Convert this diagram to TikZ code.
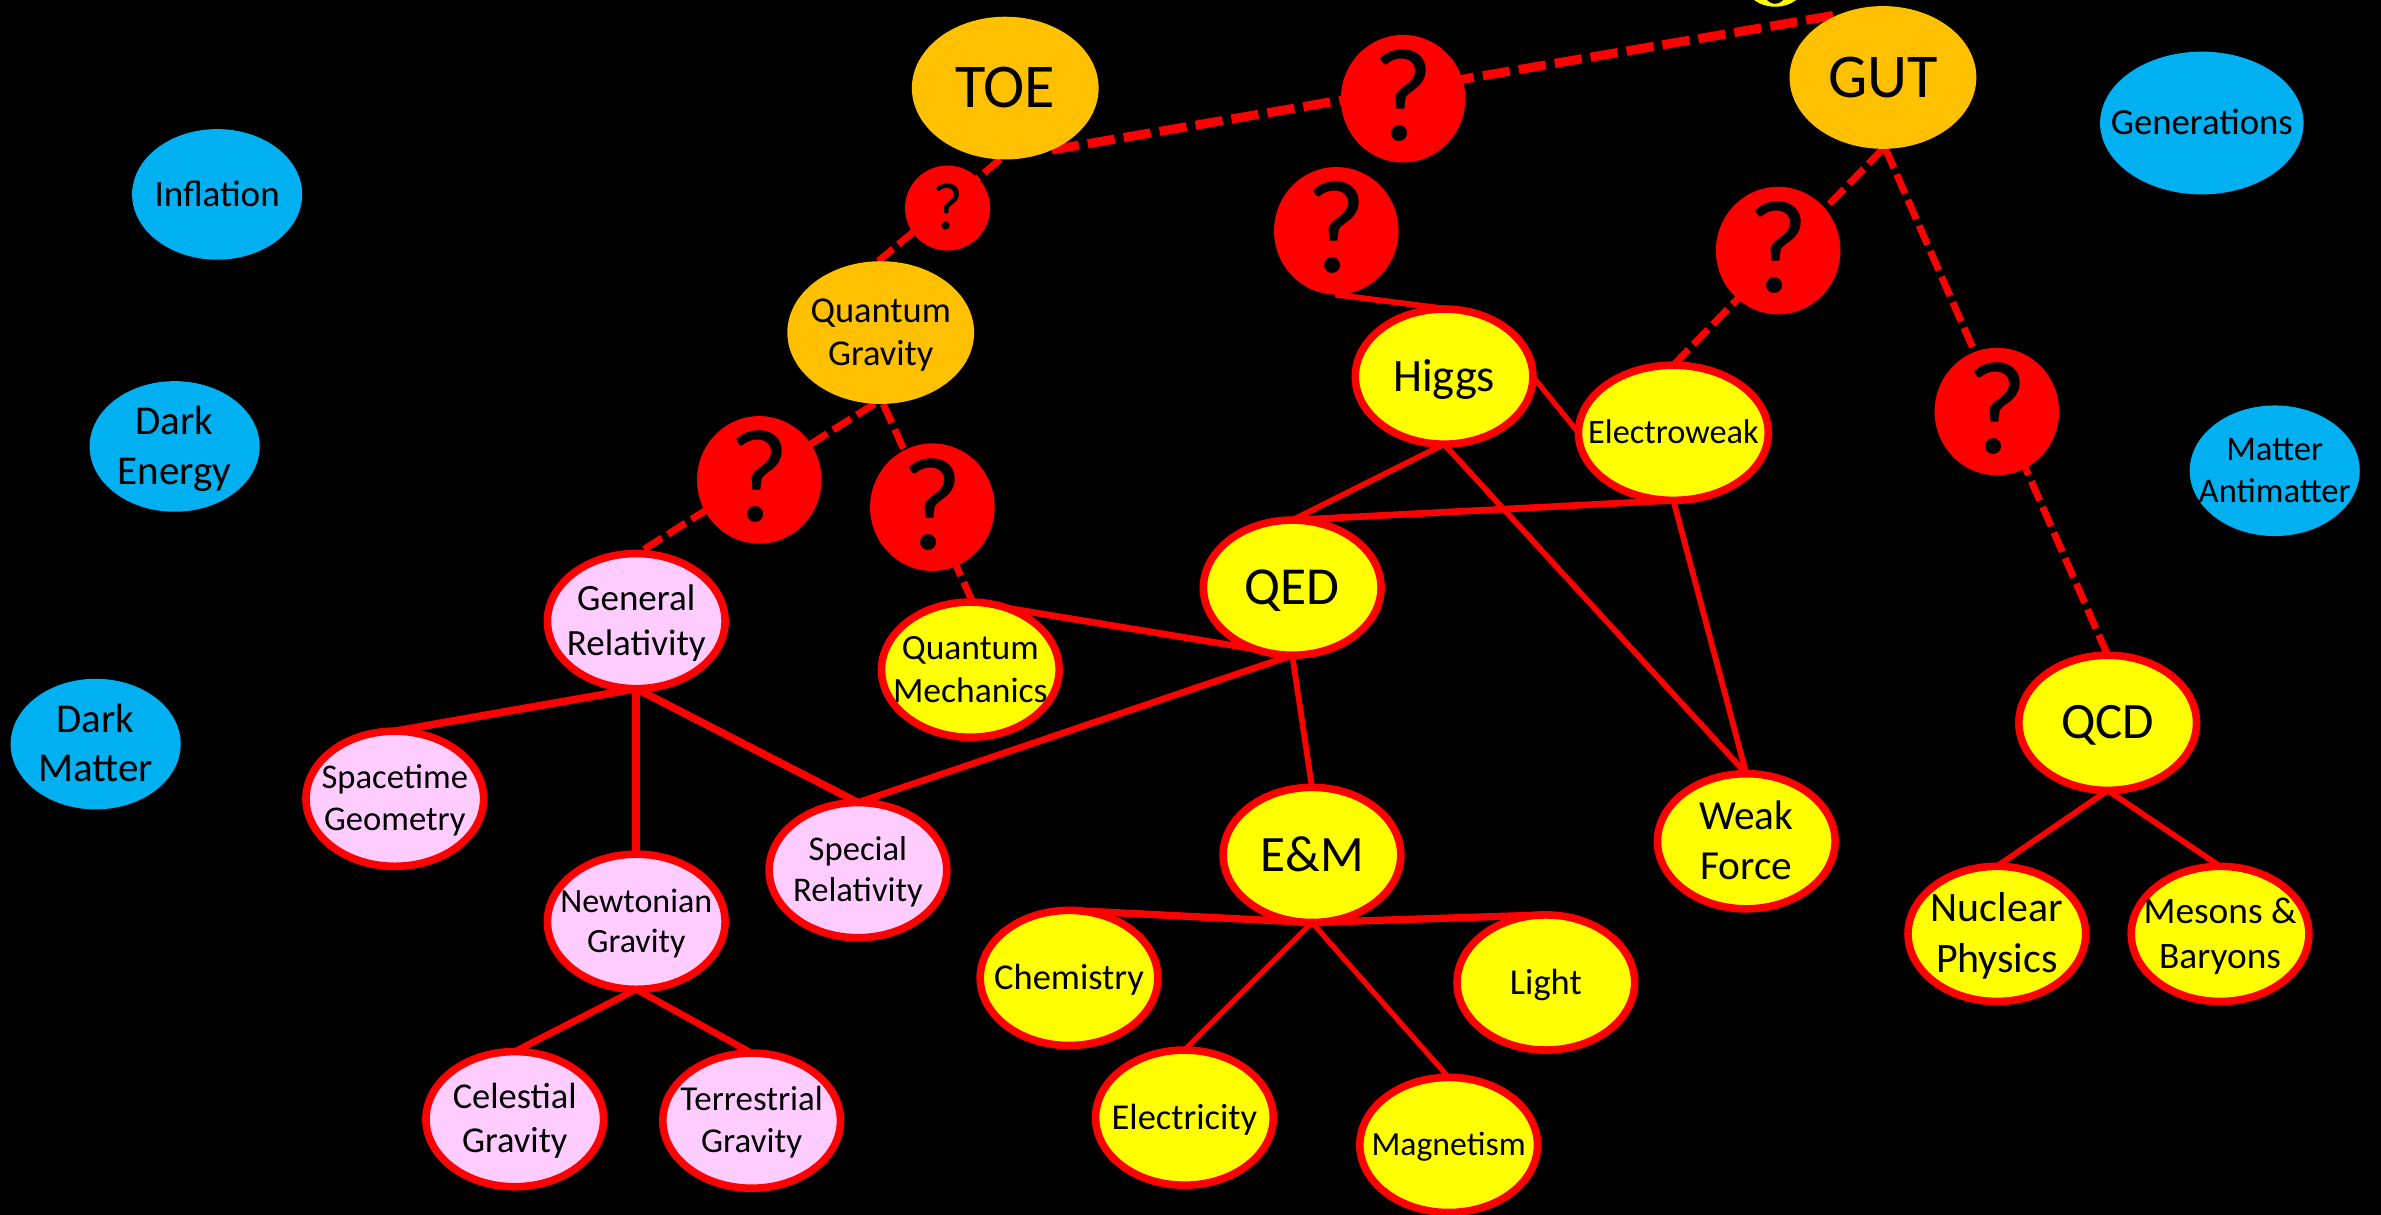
\documentclass[tikz,border=0pt]{standalone}
\usepackage{fontspec}
\setmainfont{Carlito}
\usetikzlibrary{shapes.geometric}
\pgfdeclarelayer{back}
\pgfdeclarelayer{edges}
\pgfsetlayers{back,edges,main}

\definecolor{skyblue}{HTML}{00B0F0}
\definecolor{amber}{HTML}{FFC000}
\definecolor{lemon}{HTML}{FFFF00}
\definecolor{blush}{HTML}{FFCCFF}
\definecolor{signal}{HTML}{FF0000}

% one centred line of node text: no width, cap-height top, no depth
\newcommand\capline[1]{\makebox[0pt]{\raisebox{0pt}[0.632em][0pt]{#1}}}

\tikzset{
  fsz/.code={\pgfmathsetmacro\tmpbsk{1.2*#1}%
    \tikzset{font/.expanded={\noexpand\fontsize{#1pt}{\tmpbsk pt}\noexpand\selectfont}}},
  bubble/.style={ellipse, inner sep=0pt, outer sep=0pt, align=center, text=black},
  cosmo/.style={bubble, fill=skyblue, minimum width=56pt, minimum height=43pt},
  unified/.style={bubble, fill=amber, minimum width=61.5pt, minimum height=47pt},
  unknown/.style={bubble, fill=signal, minimum width=41pt, minimum height=42pt, fsz=43.75},
  unknownsm/.style={bubble, fill=signal, minimum width=28pt, minimum height=28pt, fsz=22},
  quantum/.style={bubble, fill=lemon, draw=signal, line width=2.5pt,
    minimum width=58.5pt, minimum height=44.5pt},
  classical/.style={quantum, fill=blush},
  bond/.style={draw=signal, line width=#1},
  bond/.default=1.9pt,
  longdash/.style={draw=signal, line width=3pt, dash pattern=on 9pt off 3pt},
  shortdash/.style={draw=signal, line width=2.3pt, dash pattern=on 6.9pt off 2.3pt},
}

\begin{document}
\begin{tikzpicture}[x={(0.5pt,0)}, y={(0,-0.5pt)}]
\useasboundingbox (0,0) rectangle (1568,800);
\begin{pgfonlayer}{back}
  \fill[black] (0,0) rectangle (1568,800);
\end{pgfonlayer}

% lower edge of a yellow shape cut by the top border
\fill[lemon, even odd rule] (1169,-9.6) ellipse [x radius=9.5pt, y radius=7pt]
                            (1169,-9.6) ellipse [x radius=4.5pt, y radius=6.05pt];

% cosmology puzzles
\node[cosmo, fsz=12.2] (inflation) at (143,128) {\capline{Inflation}};
\node[cosmo, fsz=13.5] (darkenergy) at (115,294) {\capline{Dark}\\\capline{Energy}};
\node[cosmo, fsz=13.5] (darkmatter) at (63,490) {\capline{Dark}\\\capline{Matter}};
\node[cosmo, fsz=12.1, minimum width=67pt, minimum height=47pt] (generations) at (1450,81) {\capline{Generations}};
\node[cosmo, fsz=11.4] (antimatter) at (1498,310) {\capline{Matter}\\\capline{Antimatter}};

% unified theories
\node[unified, fsz=20.5] (toe) at (662,58) {\capline{TOE}};
\node[unified, fsz=20.5] (gut) at (1240,51) {\capline{GUT}};
\node[unified, fsz=12] (qgrav) at (580,219) {\capline{Quantum}\\\capline{Gravity}};

% open questions
\node[unknown] (qtop) at (924,65) {\capline{?}};
\node[unknownsm] (qtoe) at (624,137) {\capline{?}};
\node[unknown] (qhiggs) at (880,152) {\capline{?}};
\node[unknown] (qew) at (1171,165) {\capline{?}};
\node[unknown] (qqcd) at (1315,271) {\capline{?}};
\node[unknown] (qgr) at (500,316) {\capline{?}};
\node[unknown] (qqm) at (614,334) {\capline{?}};

% quantum field theories and their branches
\node[quantum, fsz=15.3] (higgs) at (951,248) {\capline{Higgs}};
\node[quantum, fsz=11.3, minimum width=62.5pt] (ew) at (1102,285) {\capline{Electroweak}};
\node[quantum, fsz=17.6] (qed) at (851,387) {\capline{QED}};
\node[quantum, fsz=16.8] (qcd) at (1388,476) {\capline{QCD}};
\node[quantum, fsz=13.6] (weak) at (1150,554) {\capline{Weak}\\\capline{Force}};
\node[quantum, fsz=16.8] (em) at (864,563) {\capline{E\&M}};
\node[quantum, fsz=12] (chem) at (704,644) {\capline{Chemistry}};
\node[quantum, fsz=12] (light) at (1018,647) {\capline{Light}};
\node[quantum, fsz=12] (elec) at (780,736) {\capline{Electricity}};
\node[quantum, fsz=11.1] (magn) at (954,754) {\capline{Magnetism}};
\node[quantum, fsz=13.8] (nuclear) at (1315,615) {\capline{Nuclear}\\\capline{Physics}};
\node[quantum, fsz=12.3] (mesons) at (1462,615) {\capline{Mesons \&}\\\capline{Baryons}};
\node[quantum, fsz=11.7] (qm) at (639,441) {\capline{Quantum}\\\capline{Mechanics}};

% gravity
\node[classical, fsz=12.2] (gr) at (419,409) {\capline{General}\\\capline{Relativity}};
\node[classical, fsz=11.4] (spacetime) at (260,526) {\capline{Spacetime}\\\capline{Geometry}};
\node[classical, fsz=11.4] (sr) at (565,573) {\capline{Special}\\\capline{Relativity}};
\node[classical, fsz=11.2] (newton) at (419,607) {\capline{Newtonian}\\\capline{Gravity}};
\node[classical, fsz=12] (celestial) at (339,737) {\capline{Celestial}\\\capline{Gravity}};
\node[classical, fsz=11.5] (terrestrial) at (495,738) {\capline{Terrestrial}\\\capline{Gravity}};

\begin{pgfonlayer}{edges}
  % speculative links
  \draw[longdash] (toe.-53) -- (gut.125);
  \draw[shortdash] (toe.-94) -- (qgrav.92);
  \draw[shortdash] (qgrav.-95) -- (gr.89);
  \draw[shortdash] (qgrav.-88) -- (qm.88);
  \draw[shortdash] (gut.-90) -- (ew.90);
  \draw[shortdash] (gut.-88) -- (qcd.90);
  % established links
  \draw[bond] (qhiggs.-91) -- (higgs.86);
  \draw[bond=1.75pt] (higgs.east) -- (ew.west);
  \draw[bond] (higgs.south) -- (qed.north);
  \draw[bond] (higgs.south) -- (weak.north);
  \draw[bond=2.2pt] (ew.south) -- (qed.north);
  \draw[bond] (ew.south) -- (weak.north);
  \draw[bond=2.2pt] (qm.north) -- (qed.south);
  \draw[bond=2.2pt] (qed.south) -- (sr.north);
  \draw[bond] (qed.south) -- (em.north);
  \draw[bond=2.5pt] (gr.south) -- (spacetime.north);
  \draw[bond=2.5pt] (gr.south) -- (newton.north);
  \draw[bond=2.5pt] (gr.south) -- (sr.north);
  \draw[bond=2.2pt] (newton.south) -- (celestial.north);
  \draw[bond=2.2pt] (newton.south) -- (terrestrial.north);
  \draw[bond=2.4pt] (em.south) -- (chem.north);
  \draw[bond=2.4pt] (em.south) -- (light.north);
  \draw[bond=1.75pt] (em.south) -- (elec.north);
  \draw[bond=1.75pt] (em.south) -- (magn.north);
  \draw[bond] (qcd.south) -- (nuclear.north);
  \draw[bond] (qcd.south) -- (mesons.north);
\end{pgfonlayer}
\end{tikzpicture}
\end{document}
